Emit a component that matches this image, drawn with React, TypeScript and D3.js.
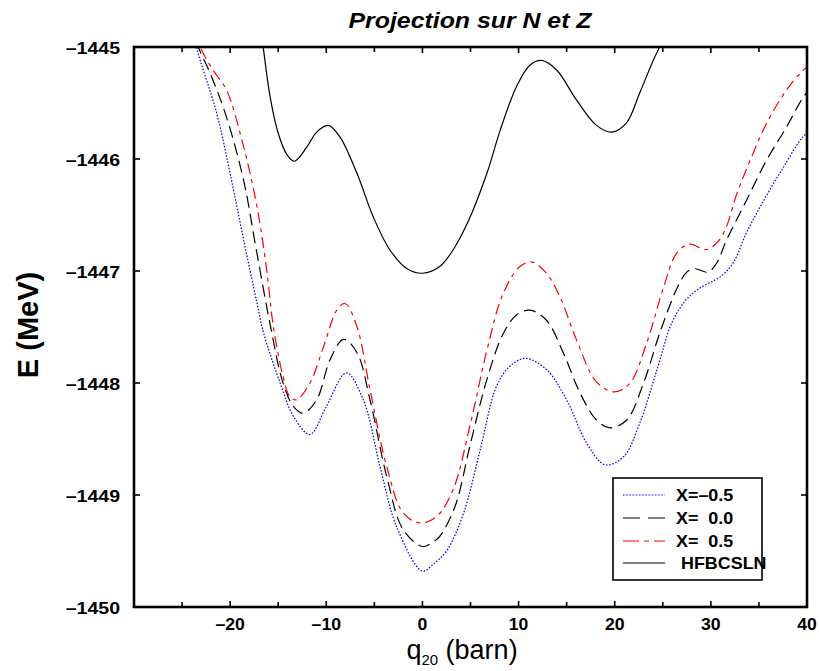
import React from 'react';
import * as d3 from 'd3';

const W = 819;
const H = 671;
const PL = 134, PR = 807, PT = 47, PB = 607;

const xTicks = [-20, -10, 0, 10, 20, 30, 40];
const xAllTicks = [-25, -20, -15, -10, -5, 0, 5, 10, 15, 20, 25, 30, 35];
const yTicks = [-1445, -1446, -1447, -1448, -1449, -1450];

// HFBCSLN (solid black)
const qHF = [-17.2, -16.55, -15.85, -15.0, -14.1, -13.3, -12.0, -11.0, -9.8, -8.6, -6.8, -5.1, -3.4, -1.6, 0.0, 1.8, 3.2, 4.8, 6.7, 8.1, 9.8, 11.2, 12.4, 14.0, 16.0, 18.1, 19.7, 21.2, 22.6, 24.0, 24.65, 25.2];
const eHF = [-1444.62, -1445.01, -1445.44, -1445.77, -1445.96, -1446.02, -1445.89, -1445.76, -1445.70, -1445.80, -1446.13, -1446.52, -1446.81, -1446.98, -1447.02, -1446.96, -1446.81, -1446.55, -1446.13, -1445.74, -1445.35, -1445.16, -1445.12, -1445.21, -1445.47, -1445.70, -1445.76, -1445.68, -1445.41, -1445.12, -1445.0, -1444.85];

// X = -0.5 (blue dotted)
const qM = [-24.0, -23.5, -21.4, -20.0, -18.6, -17.2, -16.5, -14.8, -13.4, -11.7, -10.0, -7.9, -6.15, -4.4, -2.7, 0.0, 1.1, 2.5, 4.25, 6.0, 7.7, 9.1, 10.7, 12.9, 15.0, 17.1, 19.0, 20.9, 22.6, 24.4, 26.0, 27.5, 28.9, 31.0, 32.3, 33.7, 35.5, 37.5, 39.6, 40.5];
const eM = [-1444.75, -1445.0, -1445.59, -1446.13, -1446.72, -1447.29, -1447.56, -1448.00, -1448.30, -1448.46, -1448.21, -1447.91, -1448.15, -1448.75, -1449.28, -1449.68, -1449.62, -1449.50, -1449.17, -1448.60, -1448.03, -1447.85, -1447.78, -1447.88, -1448.15, -1448.54, -1448.73, -1448.66, -1448.36, -1447.88, -1447.45, -1447.25, -1447.15, -1447.05, -1446.93, -1446.66, -1446.37, -1446.08, -1445.80, -1445.74];

// X = 0.0 (black dashed)
const qZ = [-23.8, -23.3, -22.1, -20.4, -18.6, -17.3, -15.9, -14.5, -13.4, -12.4, -11.0, -9.6, -8.2, -6.8, -5.45, -3.7, -2.0, 0.0, 1.1, 1.8, 3.4, 5.0, 6.7, 8.4, 9.8, 11.2, 12.9, 14.65, 16.4, 18.1, 19.5, 21.25, 23.0, 24.7, 26.5, 27.5, 28.35, 29.7, 30.6, 31.65, 33.7, 35.8, 37.9, 39.45, 40.5];
const eZ = [-1444.8, -1445.0, -1445.23, -1445.62, -1446.19, -1446.80, -1447.45, -1448.00, -1448.21, -1448.27, -1448.15, -1447.79, -1447.61, -1447.73, -1448.15, -1448.84, -1449.31, -1449.46, -1449.42, -1449.37, -1449.10, -1448.54, -1447.97, -1447.56, -1447.39, -1447.35, -1447.44, -1447.73, -1448.09, -1448.33, -1448.40, -1448.33, -1448.00, -1447.55, -1447.15, -1447.01, -1446.98, -1447.01, -1446.93, -1446.72, -1446.37, -1446.01, -1445.71, -1445.47, -1445.35];

// X = 0.5 (red dash-dot)
const qP = [-23.6, -23.1, -21.75, -20.4, -18.6, -17.2, -16.2, -15.5, -14.5, -13.8, -13.1, -11.7, -10.3, -8.9, -8.05, -6.8, -5.45, -3.7, -2.0, -0.2, 1.5, 3.2, 5.0, 6.7, 8.4, 10.15, 11.4, 12.9, 14.3, 16.05, 18.1, 20.0, 21.6, 23.3, 25.1, 26.45, 27.8, 29.5, 30.6, 31.5, 32.7, 34.1, 35.8, 37.9, 39.45, 40.5];
const eP = [-1444.8, -1445.0, -1445.21, -1445.38, -1445.89, -1446.43, -1446.99, -1447.50, -1447.94, -1448.12, -1448.15, -1448.00, -1447.68, -1447.35, -1447.29, -1447.50, -1448.06, -1448.75, -1449.16, -1449.25, -1449.19, -1448.95, -1448.36, -1447.71, -1447.20, -1446.96, -1446.92, -1447.02, -1447.23, -1447.62, -1447.99, -1448.08, -1448.00, -1447.65, -1447.14, -1446.84, -1446.76, -1446.81, -1446.75, -1446.63, -1446.31, -1446.01, -1445.68, -1445.38, -1445.22, -1445.14];

const legendLabels = ['X=\u20130.5', 'X=  0.0', 'X=  0.5', ' HFBCSLN'];

const FONT = '"Liberation Sans", Arial, Helvetica, sans-serif';

const fmt = (v: number) => (v < 0 ? '\u2013' + Math.abs(v) : String(v));

function SText(props: any) {
  const { x, y, sx = 1, rotate = 0, anchor = 'start', size = 16, weight = 'bold', italic = false, children } = props;
  return (
    <g transform={`translate(${x},${y}) rotate(${rotate}) scale(${sx},1)`}>
      <text
        textAnchor={anchor}
        fontFamily={FONT}
        fontSize={size}
        fontWeight={weight}
        fontStyle={italic ? 'italic' : 'normal'}
        fill="#000"
        style={{ whiteSpace: 'pre' }}
        xmlSpace="preserve"
      >
        {children}
      </text>
    </g>
  );
}

export default function App() {
  const x = d3.scaleLinear().domain([-30, 40]).range([PL, PR]);
  const y = d3.scaleLinear().domain([-1450, -1445]).range([PB, PT]);
  const line = d3
    .line<[number, number]>()
    .x((d) => x(d[0]))
    .y((d) => y(d[1]))
    .curve(d3.curveCatmullRom.alpha(0.5));
  const zip = (a: number[], b: number[]) => a.map((v, i) => [v, b[i]] as [number, number]);

  const series = [
    { q: qM, e: eM, color: '#0000ff', dash: '1.6,1.6', legDash: '1.6,1.6', w: 1.2 },
    { q: qZ, e: eZ, color: '#000000', dash: '12,6', legDash: '17,8', w: 1.2 },
    { q: qP, e: eP, color: '#ff0000', dash: '11,5,4,5', legDash: '16,5,5,5', w: 1.2 },
    { q: qHF, e: eHF, color: '#000000', dash: null, legDash: null, w: 1.2 },
  ];

  const legX = 613, legY = 478, legW = 149, legH = 102;
  const rowY = [495, 518, 541, 563];

  return (
    <svg width={W} height={H} style={{ position: 'absolute', left: 0, top: 0, background: '#fff' }}>
      <rect x={0} y={0} width={W} height={H} fill="#fff" />
      <defs>
        <clipPath id="plotclip">
          <rect x={PL} y={PT} width={PR - PL} height={PB - PT} />
        </clipPath>
      </defs>

      <g clipPath="url(#plotclip)">
        {series.map((s, i) => (
          <path
            key={i}
            d={line(zip(s.q, s.e)) || ''}
            fill="none"
            stroke={s.color}
            strokeWidth={s.w}
            strokeDasharray={s.dash || undefined}
          />
        ))}
      </g>

      {/* ticks */}
      {xAllTicks.map((t) => {
        const len = t % 10 === 0 ? 6 : 5;
        return (
          <g key={'xt' + t} stroke="#000" strokeWidth={1.6}>
            <line x1={x(t)} x2={x(t)} y1={PB} y2={PB - len} />
            <line x1={x(t)} x2={x(t)} y1={PT} y2={PT + len} />
          </g>
        );
      })}
      {yTicks.map((t) => (
        <g key={'yt' + t} stroke="#000" strokeWidth={1.6}>
          <line x1={PL} x2={PL + 6} y1={y(t)} y2={y(t)} />
          <line x1={PR} x2={PR - 6} y1={y(t)} y2={y(t)} />
        </g>
      ))}

      {/* frame */}
      <rect x={PL} y={PT} width={PR - PL} height={PB - PT} fill="none" stroke="#000" strokeWidth={2.6} />

      {/* tick labels */}
      {xTicks.map((t) => (
        <SText key={'xl' + t} x={x(t)} y={630} anchor="middle" size={16} sx={1.1}>
          {fmt(t)}
        </SText>
      ))}
      {yTicks.map((t) => (
        <SText key={'yl' + t} x={120} y={y(t) + 6.5} anchor="end" size={17} sx={1.15}>
          {fmt(t)}
        </SText>
      ))}

      {/* title */}
      <SText x={470} y={28} anchor="middle" size={22} sx={1.13} italic>
        Projection sur N et Z
      </SText>

      {/* axis titles */}
      <g transform="translate(462,659)">
        <text textAnchor="middle" fontFamily={FONT} fontSize={27} fill="#000">
          q<tspan fontSize={15} dy={6}>20</tspan>
          <tspan dy={-6}> (barn)</tspan>
        </text>
      </g>
      <SText x={38} y={325} rotate={-90} anchor="middle" size={29}>
        E (MeV)
      </SText>

      {/* legend */}
      <rect x={legX} y={legY} width={legW} height={legH} fill="#fff" stroke="#000" strokeWidth={1.6} />
      {series.map((s, i) => (
        <g key={'lg' + i}>
          <line
            x1={623}
            x2={665}
            y1={rowY[i]}
            y2={rowY[i]}
            stroke={s.color}
            strokeWidth={1.2}
            strokeDasharray={s.legDash || undefined}
          />
          <SText x={676} y={rowY[i] + 6} size={16} sx={1.12}>
            {legendLabels[i]}
          </SText>
        </g>
      ))}
    </svg>
  );
}
